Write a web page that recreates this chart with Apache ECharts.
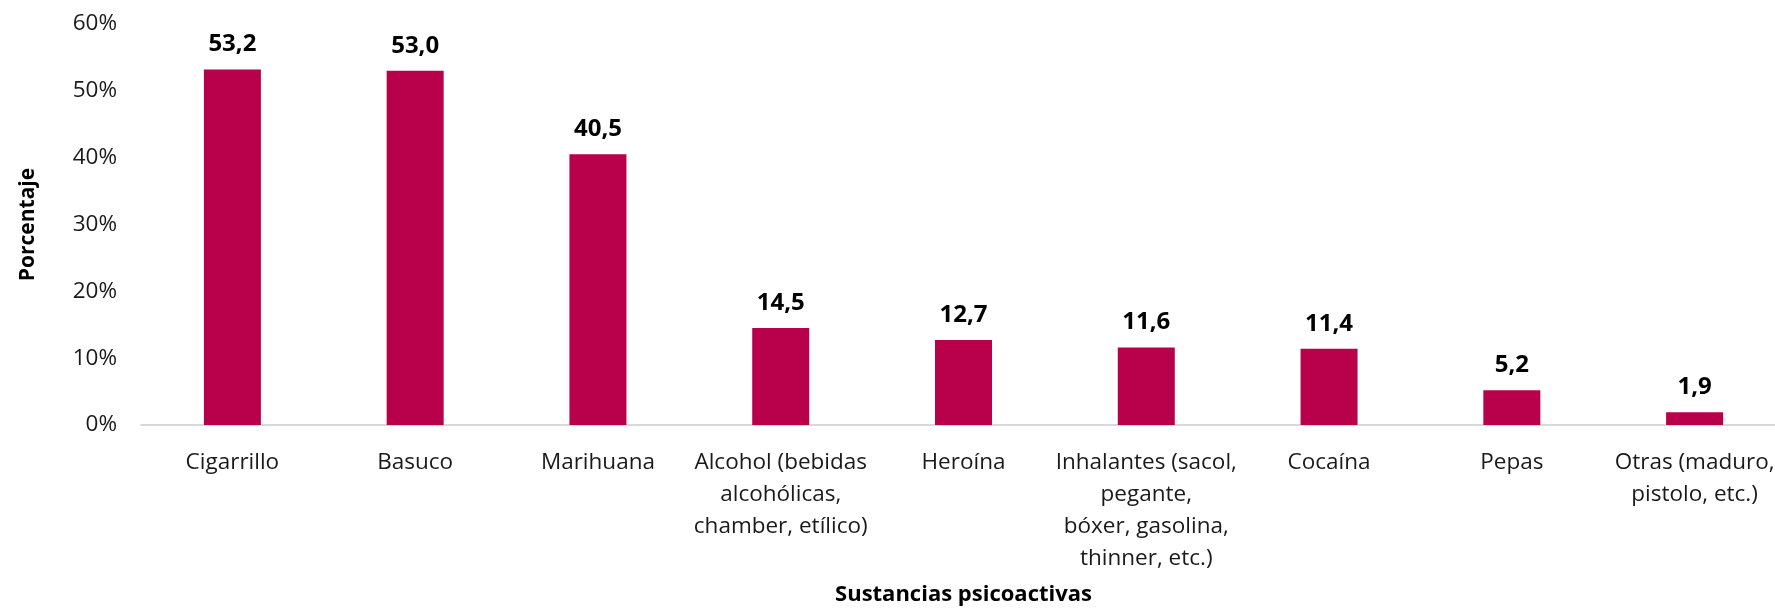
<!DOCTYPE html>
<html>
<head>
<meta charset="utf-8">
<script src="https://cdn.jsdelivr.net/npm/echarts@6/dist/echarts.min.js"></script>
<style>html,body{margin:0;padding:0;background:#fff;}#chart{width:1775px;height:610px;}</style>
</head>
<body>
<div id="chart"></div>
<script>
const categories = [
  "Cigarrillo",
  "Basuco",
  "Marihuana",
  "Alcohol (bebidas\nalcohólicas,\nchamber, etílico)",
  "Heroína",
  "Inhalantes (sacol,\npegante,\nbóxer, gasolina,\nthinner, etc.)",
  "Cocaína",
  "Pepas",
  "Otras (maduro,\npistolo, etc.)"
];
const values = [53.2, 53.0, 40.5, 14.5, 12.7, 11.6, 11.4, 5.2, 1.9];
const yTicks = [0, 10, 20, 30, 40, 50, 60];

const FONT = '"Open Sans", "Noto Sans", sans-serif';
const chart = echarts.init(document.getElementById('chart'));
chart.setOption({
  animation: false,
  grid: { left: 141, right: -11, top: 24, bottom: 185, containLabel: false, outerBoundsMode: 'none' },
  xAxis: {
    type: 'category',
    data: categories,
    name: 'Sustancias psicoactivas',
    nameLocation: 'middle',
    nameGap: 159,
    nameTextStyle: { fontFamily: FONT, fontSize: 22, fontWeight: 'bold', color: '#000' },
    axisLine: { lineStyle: { color: '#D9D9D9', width: 2 } },
    axisTick: { show: false },
    axisLabel: { interval: 0, fontFamily: FONT, fontSize: 22.5, color: '#1a1a1a', margin: 22, lineHeight: 32 }
  },
  yAxis: {
    type: 'value',
    min: yTicks[0],
    max: yTicks[yTicks.length - 1],
    interval: 10,
    name: 'Porcentaje',
    nameLocation: 'middle',
    nameGap: 102,
    nameRotate: 90,
    nameTextStyle: { fontFamily: FONT, fontSize: 21, fontWeight: 'bold', color: '#000' },
    splitLine: { show: false },
    axisLine: { show: false },
    axisTick: { show: false },
    axisLabel: { formatter: '{value}%', fontFamily: FONT, fontSize: 22.5, color: '#1a1a1a', margin: 24 }
  },
  series: [{
    type: 'bar',
    data: values,
    barWidth: 57,
    itemStyle: { color: '#B8004B' },
    label: {
      show: true,
      position: 'top',
      distance: 13,
      fontFamily: FONT,
      fontSize: 24,
      fontWeight: 'bold',
      color: '#000',
      formatter: p => p.value.toFixed(1).replace('.', ',')
    }
  }]
});
</script>
</body>
</html>
